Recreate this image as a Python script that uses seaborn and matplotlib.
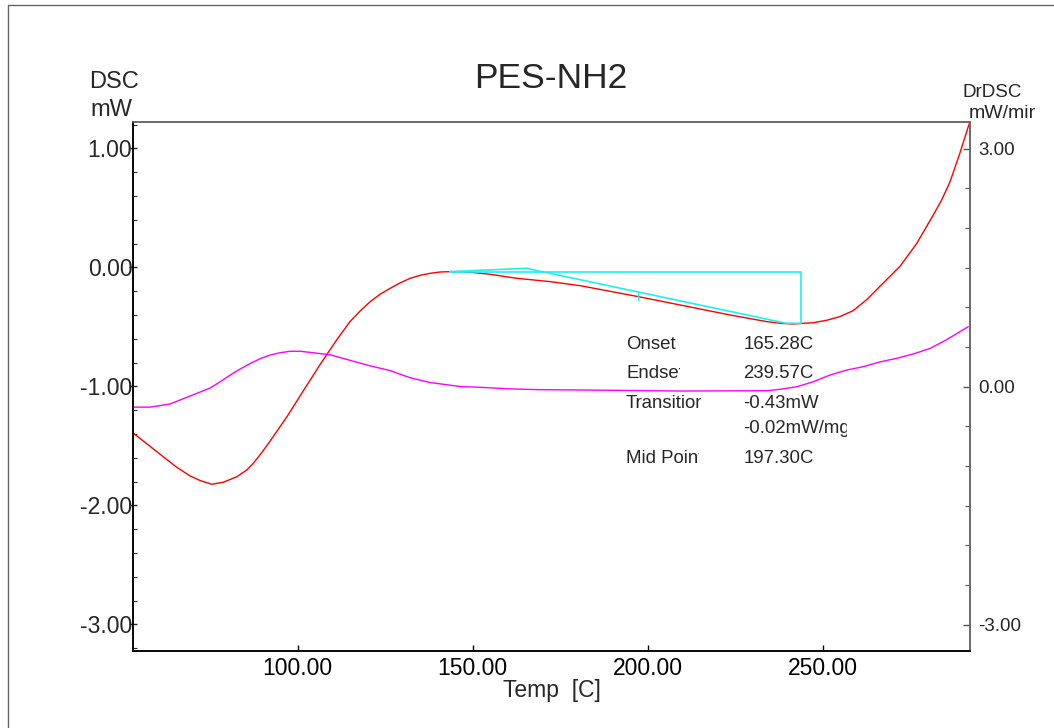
import matplotlib
matplotlib.use("Agg")
import matplotlib.pyplot as plt
from matplotlib.ticker import MultipleLocator, FixedLocator, FormatStrFormatter
from matplotlib.lines import Line2D
from matplotlib.transforms import Bbox
import seaborn as sns

# DSC signal (left axis, mW) vs temperature (C)
temp_dsc = [52.8, 56.9, 61.6, 65.4, 69.2, 72.1, 75.4, 78.7, 82.6, 85.4, 87.3, 89.7,
            92.1, 96.9, 101.6, 106.4, 111.1, 114.9, 117.8, 120.7, 123.5, 126.4,
            129.2, 132.1, 134.9, 137.8, 140.7, 143.5, 146.4, 149.2, 154.9, 162.6,
            172.1, 180.7, 197.3, 209.2, 223.5, 234.0, 237.8, 241.6, 247.3, 251.1,
            254.9, 258.7, 262.6, 267.0, 272.1, 276.9, 281.6, 284.0, 286.4, 289.2,
            291.6, 292.1]
dsc = [-1.388, -1.483, -1.592, -1.679, -1.752, -1.791, -1.822, -1.805, -1.758, -1.702,
       -1.645, -1.556, -1.458, -1.254, -1.035, -0.814, -0.609, -0.455, -0.366, -0.287,
       -0.225, -0.175, -0.130, -0.091, -0.066, -0.049, -0.038, -0.035, -0.035, -0.040,
       -0.057, -0.091, -0.119, -0.153, -0.245, -0.315, -0.399, -0.455, -0.469, -0.475,
       -0.464, -0.444, -0.413, -0.363, -0.270, -0.140, 0.010, 0.203, 0.441, 0.567,
       0.721, 0.960, 1.183, 1.225]

# Derivative signal DrDSC (right axis, mW/min)
temp_drdsc = [52.8, 57.8, 63.5, 69.2, 74.9, 77.8, 80.7, 83.5, 86.4, 89.2, 92.1, 94.9,
              97.8, 100.7, 103.5, 109.2, 114.9, 120.7, 126.4, 132.1, 137.8, 146.4,
              152.1, 160.7, 169.2, 180.7, 195.0, 209.2, 222.0, 234.0, 237.8, 242.6,
              247.3, 252.1, 256.9, 261.6, 266.4, 271.1, 275.9, 280.7, 285.4, 291.6]
drdsc = [-0.26, -0.26, -0.22, -0.12, -0.02, 0.06, 0.145, 0.22, 0.29, 0.35, 0.397, 0.426,
         0.444, 0.444, 0.43, 0.40, 0.33, 0.26, 0.20, 0.11, 0.05, 0.00,
         -0.01, -0.03, -0.04, -0.044, -0.05, -0.057, -0.055, -0.053, -0.035, -0.003,
         0.06, 0.145, 0.208, 0.25, 0.31, 0.355, 0.41, 0.48, 0.59, 0.754]

# Glass-transition analysis construction
baseline_t = [143.5, 165.28]
baseline_v = [-0.035, -0.007]
tangent_t = [165.28, 239.57, 243.7]
tangent_v = [-0.007, -0.469, -0.469]
box_t = [143.5, 243.7, 243.7]
box_v = [-0.035, -0.035, -0.469]
mid_t = [197.30, 197.30]
mid_v = [-0.203, -0.273]

# Analysis results
result_names = ["Onset", "Endset", "Transition", "", "Mid Point"]
result_values = ["165.28C", "239.57C", "-0.43mW", "-0.02mW/mg", "197.30C"]

x_ticks = [100, 150, 200, 250]
left_ticks = [-3, -2, -1, 0, 1]
right_ticks = [-3, 0, 3]

sns.set_style("white")
plt.rcParams["font.family"] = ["Liberation Sans", "DejaVu Sans"]

W, H = 1054, 728
fig = plt.figure(figsize=(W / 100, H / 100), dpi=100)
fig.patch.set_facecolor("white")


def fx(x):
    return x / W


def fy(y):
    return (H - y) / H


def clipped_text(x, y, s, right, **kw):
    t = fig.text(fx(x), fy(y), s, ha="left", va="baseline", **kw)
    t.set_clip_box(Bbox.from_extents(x - 5, 0, right, H))
    t.set_clip_on(True)
    return t


ax = fig.add_axes([fx(133), fy(651), (970 - 133) / W, (651 - 121.7) / H])
ax2 = ax.twinx()

line_kw = dict(sort=False, estimator=None)
sns.lineplot(x=temp_dsc, y=dsc, ax=ax, color="#ff0000", lw=1.0, **line_kw)
sns.lineplot(x=temp_drdsc, y=drdsc, ax=ax2, color="#ff00ff", lw=1.0, **line_kw)

cyan = "#1ef0f0"
sns.lineplot(x=baseline_t, y=baseline_v, ax=ax, color=cyan, lw=1.2, **line_kw)
sns.lineplot(x=tangent_t, y=tangent_v, ax=ax, color=cyan, lw=1.2, **line_kw)
sns.lineplot(x=box_t, y=box_v, ax=ax, color=cyan, lw=1.2, **line_kw)
sns.lineplot(x=mid_t, y=mid_v, ax=ax, color=cyan, lw=1.0, **line_kw)

ax.set_xlim(52.9, 292.1)
ax.set_ylim(-3.223, 1.225)
ax2.set_ylim(-3.334, 3.338)

# x axis
ax.xaxis.set_major_locator(FixedLocator(x_ticks))
ax.xaxis.set_major_formatter(FormatStrFormatter("%.2f"))
ax.tick_params(axis="x", direction="in", length=4.5, width=1, pad=4,
               labelsize=16.5, colors="black", bottom=True)

# left axis
ax.yaxis.set_major_locator(FixedLocator(left_ticks))
ax.yaxis.set_minor_locator(MultipleLocator(0.2))
ax.yaxis.set_major_formatter(FormatStrFormatter("%.2f"))
ax.tick_params(axis="y", which="major", direction="inout", length=6, width=1,
               pad=-2.5, labelsize=16.5, left=True)
ax.tick_params(axis="y", which="minor", direction="in", length=3, width=0.8, left=True)

# right axis
ax2.yaxis.set_major_locator(FixedLocator(right_ticks))
ax2.yaxis.set_minor_locator(MultipleLocator(0.5))
ax2.yaxis.set_major_formatter(FormatStrFormatter("%.2f"))
ax2.tick_params(axis="y", which="major", direction="in", length=5, width=1,
                pad=6, labelsize=13.5, right=True, color="#555555")
ax2.tick_params(axis="y", which="minor", direction="in", length=3.5, width=0.8,
                right=True, color="#555555")

for a in (ax, ax2):
    a.set_xlabel("")
    a.set_ylabel("")
    a.grid(False)
    a.spines["left"].set_color("black")
    a.spines["bottom"].set_color("black")
    a.spines["top"].set_color("#666666")
    a.spines["right"].set_color("#666666")
    for s in a.spines.values():
        s.set_linewidth(1.1)
ax.set_facecolor("none")

# axis titles
fig.text(fx(551), fy(88), "PES-NH2", ha="center", va="baseline", fontsize=25.5)
fig.text(fx(89), fy(88.3), "DSC", ha="left", va="baseline", fontsize=17)
fig.text(fx(90), fy(116), "mW", ha="left", va="baseline", fontsize=17)
fig.text(fx(962), fy(97.3), "DrDSC", ha="left", va="baseline", fontsize=13.5)
clipped_text(969, 117.5, "mW/min", 1035, fontsize=14)
fig.text(fx(551.7), fy(697), "Temp  [C]", ha="center", va="baseline", fontsize=16.5)

# analysis result table, each label clipped to its column width
baselines = [349.3, 378.3, 408.3, 433.3, 463.3]
name_clip = [700, 680, 701, 701, 699]
value_clip = [900, 900, 900, 846.7, 900]
for name, val, yb, c1, c2 in zip(result_names, result_values, baselines, name_clip, value_clip):
    if name:
        clipped_text(626, yb, name, c1, fontsize=13.4)
    clipped_text(743.3, yb, val, c2, fontsize=13.4)

# outer frame
fig.add_artist(Line2D([fx(8), 1.0], [fy(5), fy(5)], color="#666666", lw=1.0))
fig.add_artist(Line2D([fx(8), fx(8)], [fy(5), 0.0], color="#666666", lw=1.0))

fig.savefig("out.png", dpi=100)
